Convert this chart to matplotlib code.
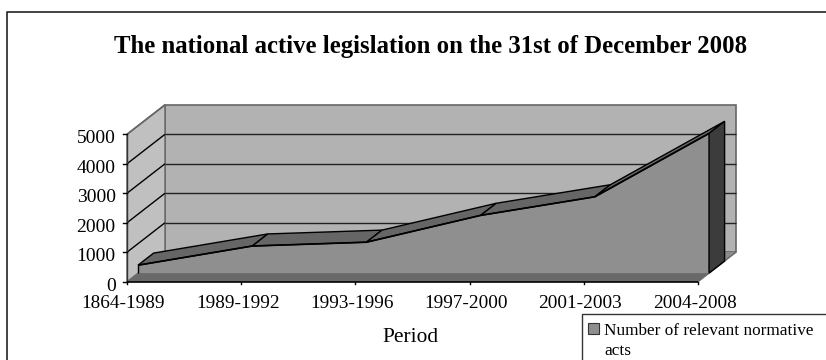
import matplotlib
matplotlib.use("Agg")
import matplotlib.pyplot as plt
from matplotlib.patches import Polygon

W, H = 826, 360

periods = ["1864-1989", "1989-1992", "1993-1996", "1997-2000", "2001-2003", "2004-2008"]
acts = [270, 920, 1050, 1960, 2590, 4740]
yticks = [0, 1000, 2000, 3000, 4000, 5000]

plt.rcParams["font.family"] = ["Liberation Serif", "DejaVu Serif"]

fig = plt.figure(figsize=(W / 100, H / 100), dpi=100)
fig.patch.set_facecolor("white")

# floor front edge runs from x=127 to x=698, value axis from y=281.7 to y=134.3
ax = fig.add_axes([127 / W, 1 - 281.7 / H, 571 / W, 147.4 / H])
ax.set_xlim(0, 5)
ax.set_ylim(0, 5000)
ax.axis("off")

# oblique depth of the box, in data units
DEPTH_X = 38 / 114.2
DEPTH_Y = 1000
S_FRONT = 0.29
S_BACK = 0.70


def pt(x, v, d=0.0):
    # d=0 is the front of the box, d=1 the back wall
    return (x + d * DEPTH_X, v + d * DEPTH_Y)


def poly(points, face, edge="none", lw=0.0, z=1):
    ax.add_patch(Polygon(points, closed=True, facecolor=face, edgecolor=edge,
                         linewidth=lw, zorder=z, clip_on=False, joinstyle="miter"))


def line(a, b, color="black", lw=1.0, z=2):
    ax.plot([a[0], b[0]], [a[1], b[1]], color=color, lw=lw, zorder=z,
            clip_on=False, solid_capstyle="butt")


top = yticks[-1]
n = len(periods) - 1

# walls and floor
poly([pt(0, 0, 1), pt(n, 0, 1), pt(n, top, 1), pt(0, top, 1)], "#b2b2b2", "#666666", 1.2)
poly([pt(0, 0), pt(0, 0, 1), pt(0, top, 1), pt(0, top)], "#c0c0c0", "#666666", 1.0)
poly([pt(0, 0), pt(n, 0), pt(n, 0, 1), pt(0, 0, 1)], "#8c8c8c", "none")

# gridlines on back and side wall
for v in yticks[1:-1]:
    line(pt(0, v), pt(0, v, 1), lw=1.0)
    line(pt(0, v, 1), pt(n, v, 1), color="#222222", lw=1.0)
line(pt(0, top), pt(0, top, 1), color="#666666", lw=1.2)

# area series: front face, bottom strip, top facets, right end cap
xs = list(range(len(acts)))
front_top = [pt(x, v, S_FRONT) for x, v in zip(xs, acts)]
poly([pt(0, 0, S_FRONT)] + front_top + [pt(n, 0, S_FRONT)], "#8f8f8f", z=3)
poly([pt(0, 0), pt(n, 0), pt(n, 0, S_FRONT), pt(0, 0, S_FRONT)], "#696969", z=3)
for i in range(n):
    poly([pt(i, acts[i], S_FRONT), pt(i + 1, acts[i + 1], S_FRONT),
          pt(i + 1, acts[i + 1], S_BACK), pt(i, acts[i], S_BACK)],
         "#666666", "black", 1.0, z=4)
poly([pt(n, 0, S_FRONT), pt(n, acts[-1], S_FRONT), pt(n, acts[-1], S_BACK), pt(n, 0, S_BACK)],
     "#3c3c3c", "black", 1.0, z=4)
line(pt(0, 0, S_FRONT), pt(0, acts[0], S_FRONT), z=5)
for i in range(n):
    line(pt(i, acts[i], S_FRONT), pt(i + 1, acts[i + 1], S_FRONT), lw=1.2, z=5)

# axis lines and ticks
line(pt(0, 0), pt(0, top), color="#333333", lw=1.0, z=6)
line(pt(0, 0), pt(n, 0), lw=1.2, z=6)
line(pt(n, 0), pt(n, 0, 1), color="#666666", lw=1.0, z=2)
for v in yticks:
    ax.plot([-0.035, 0], [v, v], color="black", lw=1.0, clip_on=False, zorder=6)
    ax.text(-0.1, v - 300, str(v), ha="right", va="baseline", fontsize=14, clip_on=False)
for x in xs:
    ax.plot([x, x], [0, -90], color="black", lw=1.0, clip_on=False, zorder=6)
    ax.text(x - 0.03, -900, periods[x], ha="center", va="baseline", fontsize=13.9, clip_on=False)

# outer frame stops at the right and bottom edges of the figure
fig.add_artist(plt.Line2D([7.5 / W, 7.5 / W, 1], [0, 1 - 11.5 / H, 1 - 11.5 / H], color="#222222",
                          lw=1.2, transform=fig.transFigure))

fig.text(431 / W, 1 - 53.3 / H, "The national active legislation on the 31st of December 2008",
         ha="center", va="baseline", fontsize=17.85, fontweight="bold")
fig.text(410 / W, 1 - 342.3 / H, "Period", ha="center", va="baseline", fontsize=15.4)

# legend box
fig.add_artist(plt.Rectangle((582 / W, -1 / H), 250 / W, 1 + 1 / H - 313.7 / H, facecolor="white",
                             edgecolor="#333333", lw=1.0, transform=fig.transFigure))
fig.add_artist(plt.Rectangle((588 / W, 1 - 334 / H), 11 / W, 11 / H, facecolor="#8f8f8f",
                             edgecolor="#333333", lw=0.8, transform=fig.transFigure))
fig.text(604 / W, 1 - 335 / H, "Number of relevant normative", ha="left", va="baseline", fontsize=12.4)
fig.text(604 / W, 1 - 355 / H, "acts", ha="left", va="baseline", fontsize=12.4)

fig.savefig("out.png", dpi=100)
